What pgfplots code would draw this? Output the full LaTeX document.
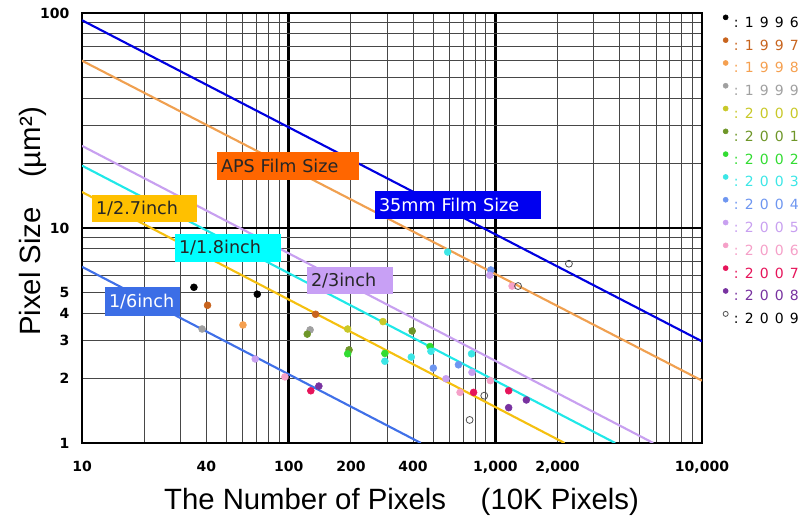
\documentclass[border=0pt]{standalone}
\usepackage{fontspec}
\setmainfont{Liberation Sans}
\newfontfamily\dv{DejaVu Sans}
\usepackage{pgfplots}
\pgfplotsset{compat=1.18}
\definecolor{c96}{HTML}{000000}
\definecolor{c97}{HTML}{C8641E}
\definecolor{c98}{HTML}{F5A050}
\definecolor{c99}{HTML}{A0A0A0}
\definecolor{c00}{HTML}{C8C828}
\definecolor{c01}{HTML}{6E9628}
\definecolor{c02}{HTML}{32DC32}
\definecolor{c03}{HTML}{3CE6E6}
\definecolor{c04}{HTML}{6E96F0}
\definecolor{c05}{HTML}{C8A0F0}
\definecolor{c06}{HTML}{F5A0C8}
\definecolor{c07}{HTML}{E6145A}
\definecolor{c08}{HTML}{7832A0}
\definecolor{c09}{HTML}{505050}
\definecolor{l35}{HTML}{0000E0}
\definecolor{laps}{HTML}{F0A050}
\definecolor{l23}{HTML}{C8A0F0}
\definecolor{l18}{HTML}{20E8E8}
\definecolor{l27}{HTML}{F5C010}
\definecolor{l16}{HTML}{4070E8}
\definecolor{b35}{HTML}{0000F0}
\definecolor{baps}{HTML}{FF6600}
\definecolor{b23}{HTML}{C8A0F5}
\definecolor{b18}{HTML}{00FFFF}
\definecolor{b27}{HTML}{FFC000}
\definecolor{b16}{HTML}{3C6EE6}
\newcommand\yr[4]{:\hspace{4.6pt}#1\hspace{4.6pt}#2\hspace{4.6pt}#3\hspace{4.6pt}#4}
\pgfplotsset{
  yrs/.style={only marks, mark=*, mark size=2.6pt, color=#1,
    legend image code/.code={\fill[#1] (0pt,3.4pt) circle (1.9pt);}},
}
\begin{document}
\begin{tikzpicture}[x=0.75pt,y=0.75pt]
\path[use as bounding box] (0,0) rectangle (807,516);
\begin{axis}[
  at={(61.5pt,54.75pt)}, anchor=south west,
  scale only axis, width=465pt, height=322.5pt,
  xmode=log, ymode=log, xmin=10, xmax=10000, ymin=1, ymax=100,
  xtick={10,100,1000,10000}, xticklabels={10,100,{1,000},{10,000}},
  ytick={1,10,100}, yticklabels={1,10,100},
  extra x ticks={40,200,400,2000}, extra x tick labels={40,200,400,{2,000}},
  extra y ticks={2,3,4,5}, extra y tick labels={2,3,4,5},
  extra x tick style={grid=none}, extra y tick style={grid=none},
  minor xtick={20,30,40,50,60,70,80,90,200,300,400,500,600,700,800,900,2000,3000,4000,5000,6000,7000,8000,9000},
  minor ytick={2,3,4,5,6,7,8,9,20,30,40,50,60,70,80,90},
  grid=both,
  major grid style={black, line width=1.8pt},
  minor grid style={black!72, line width=0.75pt},
  axis line style={line width=1.8pt},
  major tick length=0pt, minor tick length=0pt,
  ticklabel style={font=\dv\bfseries\fontsize{10.5}{12}\selectfont},
  xticklabel style={yshift=-10pt},
  yticklabel style={xshift=-6pt},
  legend style={at={(1.033,0.997)}, anchor=north west, draw=none, fill=none, inner sep=0pt,
    font=\dv\fontsize{10.5}{12}\selectfont, row sep=7.6pt,
    nodes={inner sep=0pt, text height=8pt, text depth=0pt},
    /tikz/every odd column/.append style={column sep=4pt}},
  legend cell align=left,
]
\addplot[l35, line width=1.6pt, forget plot] coordinates {(10,92.5) (10000,2.97)};
\addplot[laps, line width=1.6pt, forget plot] coordinates {(10,60.0) (10000,1.95)};
\addplot[l23, line width=1.6pt, forget plot] coordinates {(10,24.1) (5808,1)};
\addplot[l18, line width=1.6pt, forget plot] coordinates {(10,19.5) (3802,1)};
\addplot[l27, line width=1.6pt, forget plot] coordinates {(10,14.7) (2161,1)};
\addplot[l16, line width=1.6pt, forget plot] coordinates {(10,6.6) (436,1)};

\addplot[yrs=c96] coordinates {(34.8,5.30) (70.5,4.92)};
\addlegendentry{\textcolor{c96}{\yr1996}}
\addplot[yrs=c97] coordinates {(40.5,4.37) (135,3.97)};
\addlegendentry{\textcolor{c97}{\yr1997}}
\addplot[yrs=c98] coordinates {(60.1,3.54)};
\addlegendentry{\textcolor{c98}{\yr1998}}
\addplot[yrs=c99] coordinates {(38.1,3.39) (127,3.36)};
\addlegendentry{\textcolor{c99}{\yr1999}}
\addplot[yrs=c00] coordinates {(193,3.39) (286,3.67)};
\addlegendentry{\textcolor{c00}{\yr2000}}
\addplot[yrs=c01] coordinates {(123,3.21) (196,2.71) (396,3.32)};
\addlegendentry{\textcolor{c01}{\yr2001}}
\addplot[yrs=c02] coordinates {(193,2.60) (292,2.61) (483,2.81)};
\addlegendentry{\textcolor{c02}{\yr2002}}
\addplot[yrs=c03] coordinates {(292,2.40) (392,2.51) (488,2.67) (767,2.60) (588,7.73)};
\addlegendentry{\textcolor{c03}{\yr2003}}
\addplot[yrs=c04] coordinates {(501,2.23) (663,2.31) (951,6.38)};
\addlegendentry{\textcolor{c04}{\yr2004}}
\addplot[yrs=c05] coordinates {(68.9,2.46) (577,1.99) (771,2.13) (940,6.03)};
\addlegendentry{\textcolor{c05}{\yr2005}}
\addplot[yrs=c06] coordinates {(95.9,2.03) (675,1.72) (946,1.95) (1205,5.37)};
\addlegendentry{\textcolor{c06}{\yr2006}}
\addplot[yrs=c07] coordinates {(128,1.75) (785,1.72) (1160,1.75)};
\addlegendentry{\textcolor{c07}{\yr2007}}
\addplot[yrs=c08] coordinates {(140,1.84) (1413,1.585) (1160,1.46)};
\addlegendentry{\textcolor{c08}{\yr2008}}
\addplot[only marks, mark=o, mark size=2.6pt, c09, mark options={fill=white, line width=0.6pt},
  legend image code/.code={\draw[c09, fill=white, line width=0.6pt] (0pt,3.4pt) circle (1.9pt);}]
  coordinates {(884,1.66) (751,1.28) (1288,5.37) (2270,6.82)};
\addlegendentry{\textcolor{black}{\yr2009}}
\end{axis}
\tikzset{bx/.style={inner xsep=3pt, inner ysep=0pt, align=left, font=\dv\fontsize{13.2}{15}\selectfont}}
\node[bx, fill=baps, text=black!85, text width=142*0.75pt-6pt, minimum height=28*0.75pt] at (288,350) {APS Film Size};
\node[bx, fill=b35, text=white, text width=166*0.75pt-6pt, minimum height=28*0.75pt] at (458,311) {35mm Film Size};
\node[bx, fill=b27, text=black!85, text width=105*0.75pt-6pt, minimum height=27*0.75pt] at (144.5,307.5) {1/2.7inch};
\node[bx, fill=b18, text=black!85, text width=106*0.75pt-6pt, minimum height=28*0.75pt] at (228,268) {1/1.8inch};
\node[bx, fill=b23, text=black!85, text width=86*0.75pt-6pt, minimum height=27*0.75pt] at (350,235.5) {2/3inch};
\node[bx, fill=b16, text=white, text width=75*0.75pt-6pt, minimum height=29*0.75pt] at (142.5,214.5) {1/6inch};
\node[rotate=90, anchor=base, font=\fontsize{22}{26}\selectfont] at (40,294.5) {Pixel Size\hspace{22pt}(µm²)};
\node[anchor=base, font=\fontsize{22}{26}\selectfont] at (401.5,6) {The Number of Pixels\hspace{26pt}(10K Pixels)};
\end{tikzpicture}
\end{document}
